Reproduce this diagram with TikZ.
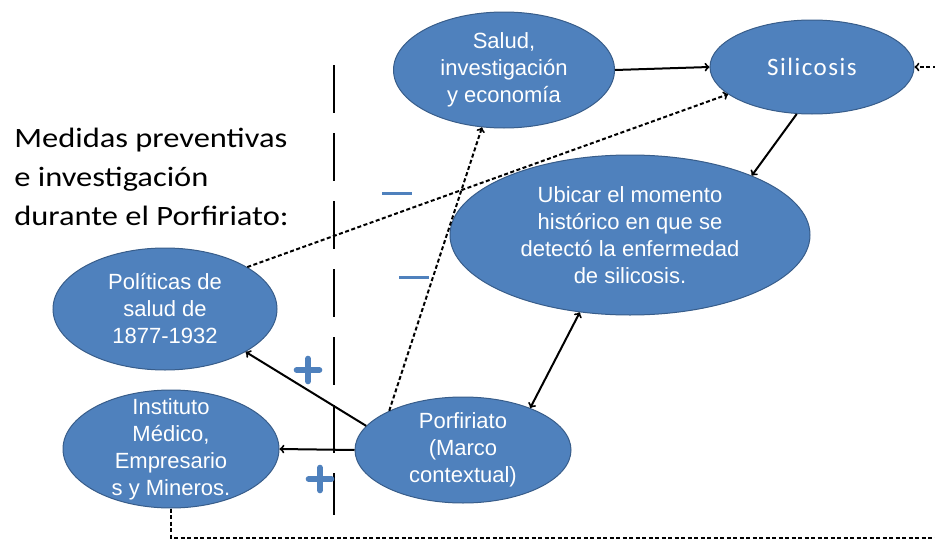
\documentclass[tikz,border=0pt]{standalone}
\usepackage{fontspec}
\setmainfont{Liberation Sans}
\newfontfamily\medfont[FakeStretch=1.16]{Carlito}
\newfontfamily\silfont[LetterSpace=6]{Carlito}
\usetikzlibrary{shapes.geometric,shapes.misc}
\definecolor{elblue}{HTML}{4F81BD}
\definecolor{elline}{HTML}{385D8A}
\begin{document}
\begin{tikzpicture}[x=1pt, y=-1pt, line width=2pt,
  ell/.style={ellipse, fill=elblue, draw=elline, line width=1pt, text=white, align=center,
    inner sep=-12pt, font=\fontsize{22}{27}\selectfont},
  dsh/.style={dash pattern=on 4pt off 2.5pt},
  minus/.style={rectangle, fill=elblue, inner sep=0, minimum width=30pt, minimum height=3pt},
  plus/.style={cross out, draw=elblue, line width=6pt, line cap=round, rotate=45, inner sep=0, minimum size=10pt}]
\useasboundingbox (0,0) rectangle (935,546);
\node[anchor=west, align=left, font=\medfont\fontsize{28}{39}\selectfont] (med) at (10,177) {Medidas preventivas\\e investigación\\durante el Porfiriato:};
\draw[dash pattern=on 48pt off 20pt] (334,65) -- (334,515);
\node[ell, minimum width=221pt, minimum height=116pt] (sal) at (504,70) {Salud,\\investigación\\y economía};
\node[ell, minimum width=204pt, minimum height=94pt, font=\silfont\fontsize{25}{27}\selectfont] (sil) at (812,67) {Silicosis};
\node[ell, minimum width=360pt, minimum height=160pt] (ubi) at (630,235) {Ubicar el momento\\histórico en que se\\detectó la enfermedad\\de silicosis.};
\node[ell, minimum width=224pt, minimum height=122pt] (pol) at (165,309) {Políticas de\\salud de\\1877-1932};
\node[ell, minimum width=216pt, minimum height=118pt] (ins) at (171,449) {Instituto\\Médico,\\Empresario\\s y Mineros.};
\node[ell, minimum width=216pt, minimum height=106pt] (por) at (463,450) {Porfiriato\\(Marco\\contextual)};
\node[minus] (mn0) at (397,193) {};
\node[minus] (mn1) at (414,277) {};
\node[plus] (pl0) at (308,370) {};
\node[plus] (pl1) at (320,479) {};
\coordinate (rt) at (960,538);
\draw[->] (sal.east) -- (sil.west);
\draw[->] (sil.-108) -- (ubi.26);
\draw[<->] (ubi.-123) -- (por.32);
\draw[->] (por.166) -- (pol.-28);
\draw[->] (por.west) -- (ins.east);
\draw[->, dsh] (por.152) -- (sal.-111);
\draw[->, dsh] (pol.27) -- (sil.-162);
\draw[->, dsh] (ins.south) |- (rt) |- (sil.east);
\end{tikzpicture}
\end{document}
